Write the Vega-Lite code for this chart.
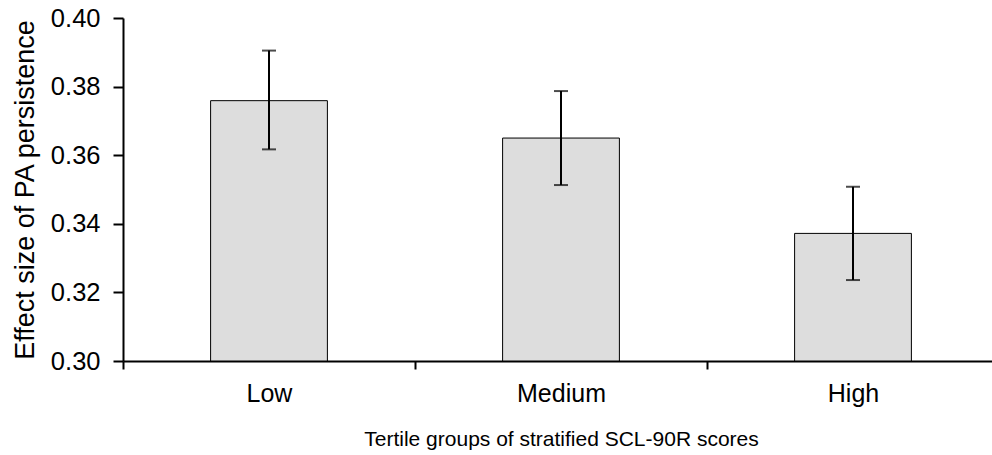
{
  "$schema": "https://vega.github.io/schema/vega-lite/v6.json",
  "width": 876,
  "height": 343,
  "autosize": {"type": "none"},
  "padding": {"left": 123, "top": 18, "right": 0, "bottom": 94},
  "background": "white",
  "config": {
    "view": {"stroke": null},
    "font": "Liberation Sans",
    "axis": {"grid": false, "domainColor": "black", "tickColor": "black", "labelColor": "black", "titleColor": "black", "domainWidth": 2, "tickWidth": 2, "labelFont": "Liberation Sans", "titleFont": "Liberation Sans", "titleFontWeight": "normal"}
  },
  "data": {
    "values": [
      {"group": "Low", "effect": 0.3759, "lo": 0.3617, "hi": 0.3905},
      {"group": "Medium", "effect": 0.3650, "lo": 0.3513, "hi": 0.3787},
      {"group": "High", "effect": 0.3372, "lo": 0.3236, "hi": 0.3508}
    ]
  },
  "encoding": {
    "x": {
      "field": "group", "type": "nominal", "sort": ["Low", "Medium", "High"],
      "scale": {"paddingInner": 0, "paddingOuter": 0},
      "axis": {"title": "Tertile groups of stratified SCL-90R scores", "labelAngle": 0, "labelFontSize": 25, "labelPadding": 12, "titleFontSize": 21, "titlePadding": 22, "tickBand": "extent", "tickSize": 8}
    }
  },
  "layer": [
    {
      "mark": {"type": "bar", "fill": "#dddddd", "stroke": "black", "strokeWidth": 1, "width": {"band": 0.4}},
      "encoding": {
        "y": {"field": "effect", "type": "quantitative", "scale": {"domain": [0.3, 0.4], "zero": false, "nice": false},
          "axis": {"title": "Effect size of PA persistence", "values": [0.3, 0.32, 0.34, 0.36, 0.38, 0.4], "format": ".2f", "labelFontSize": 25.5, "titleFontSize": 27, "tickSize": 10, "labelPadding": 13, "titlePadding": 11}},
        "y2": {"datum": 0.3}
      }
    },
    {
      "mark": {"type": "rule", "color": "black", "strokeWidth": 2},
      "encoding": {"y": {"field": "lo", "type": "quantitative"}, "y2": {"field": "hi"}}
    },
    {
      "mark": {"type": "tick", "color": "black", "thickness": 2, "size": 14, "orient": "horizontal"},
      "encoding": {"y": {"field": "lo", "type": "quantitative"}}
    },
    {
      "mark": {"type": "tick", "color": "black", "thickness": 2, "size": 14, "orient": "horizontal"},
      "encoding": {"y": {"field": "hi", "type": "quantitative"}}
    }
  ]
}
